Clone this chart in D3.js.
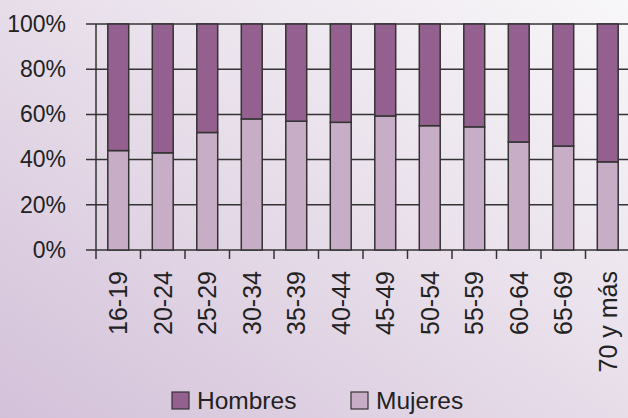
<!DOCTYPE html>
<html>
<head>
<meta charset="utf-8">
<script src="https://cdn.jsdelivr.net/npm/d3@7"></script>
<style>
  body { margin: 0; }
  svg { display: block; font-family: Arial, "Liberation Sans", sans-serif; }
</style>
</head>
<body>
<svg id="chart" width="628" height="418"></svg>
<script>
// age groups along the x axis
var groups = ["16-19", "20-24", "25-29", "30-34", "35-39", "40-44",
              "45-49", "50-54", "55-59", "60-64", "65-69", "70 y más"];
// share of women (%); men are the rest
var mujeres = [44, 43, 52, 58, 57, 56.5, 59.3, 55, 54.5, 47.8, 46, 39];
var hombres = mujeres.map(function (m) { return 100 - m; });
var yTicks = [0, 20, 40, 60, 80, 100];
var seriesNames = ["Hombres", "Mujeres"];
var seriesColors = ["#93608f", "#c8adc6"];

var svg = d3.select("#chart");
var W = 628, H = 418;

// background gradient, lavender bottom-left to almost white top-right
var defs = svg.append("defs");
var grad = defs.append("linearGradient")
  .attr("id", "bg")
  .attr("x1", 0).attr("y1", 1)
  .attr("x2", 1).attr("y2", 0);
grad.append("stop").attr("offset", "0%").attr("stop-color", "#d3c1d9");
grad.append("stop").attr("offset", "55%").attr("stop-color", "#e9e0eb");
grad.append("stop").attr("offset", "100%").attr("stop-color", "#f8f7f9");
svg.append("rect").attr("width", W).attr("height", H).attr("fill", "url(#bg)");

// careful: "top" is window.top, so use other names
var plotLeft = 96, plotTop = 24, plotBottom = 250, step = 44.5;

var x = d3.scaleBand()
  .domain(groups)
  .range([plotLeft, plotLeft + step * groups.length])
  .paddingInner(0.53)
  .paddingOuter(0.265);

var y = d3.scaleLinear().domain([0, 100]).range([plotBottom, plotTop]);

var ink = "#333";

// horizontal gridlines (also give the little ticks left of the axis)
svg.append("g")
  .selectAll("line")
  .data(yTicks)
  .enter()
  .append("line")
  .attr("x1", plotLeft - 10).attr("x2", W)
  .attr("y1", function (d) { return y(d); })
  .attr("y2", function (d) { return y(d); })
  .attr("stroke", ink).attr("stroke-width", 1.5);

// y labels
var yAxis = svg.append("g")
  .attr("transform", "translate(" + plotLeft + ",0)")
  .call(d3.axisLeft(y).tickValues(yTicks).tickSize(0).tickPadding(30)
        .tickFormat(function (d) { return d + "%"; }));
yAxis.select(".domain").remove();
yAxis.selectAll("text")
  .attr("font-size", 23).attr("fill", "#222")
  .attr("font-family", "Arial, 'Liberation Sans', sans-serif");

// bars: women at bottom, men stacked on top
var bars = svg.append("g");
bars.selectAll("rect.muj")
  .data(groups)
  .enter()
  .append("rect")
  .attr("class", "muj")
  .attr("x", function (d) { return x(d); })
  .attr("width", x.bandwidth())
  .attr("y", function (d, i) { return y(mujeres[i]); })
  .attr("height", function (d, i) { return plotBottom - y(mujeres[i]); })
  .attr("fill", seriesColors[1])
  .attr("stroke", ink).attr("stroke-width", 1.5);
bars.selectAll("rect.hom")
  .data(groups)
  .enter()
  .append("rect")
  .attr("class", "hom")
  .attr("x", function (d) { return x(d); })
  .attr("width", x.bandwidth())
  .attr("y", function (d, i) { return y(mujeres[i] + hombres[i]); })
  .attr("height", function (d, i) { return y(mujeres[i]) - y(mujeres[i] + hombres[i]); })
  .attr("fill", seriesColors[0])
  .attr("stroke", ink).attr("stroke-width", 1.5);

// y axis line
svg.append("line")
  .attr("x1", plotLeft).attr("x2", plotLeft)
  .attr("y1", plotTop).attr("y2", plotBottom)
  .attr("stroke", ink).attr("stroke-width", 1.5);

// ticks between categories
var bounds = groups.map(function (d) { return x(d) - x.step() * x.paddingInner() / 2; });
svg.append("g")
  .selectAll("line")
  .data(bounds)
  .enter()
  .append("line")
  .attr("x1", function (d) { return d; })
  .attr("x2", function (d) { return d; })
  .attr("y1", plotBottom).attr("y2", plotBottom + 9)
  .attr("stroke", ink).attr("stroke-width", 1.5);

// rotated category labels
svg.append("g")
  .selectAll("text")
  .data(groups)
  .enter()
  .append("text")
  .attr("transform", function (d) {
    return "translate(" + (x(d) + x.bandwidth() / 2) + "," + 271 + ") rotate(-90)";
  })
  .attr("dy", "0.35em")
  .attr("text-anchor", "end")
  .attr("font-size", 25)
  .attr("fill", "#222")
  .text(function (d) { return d; });

// legend
var legendX = [172, 351];
var legend = svg.append("g")
  .selectAll("g")
  .data(seriesNames)
  .enter()
  .append("g")
  .attr("transform", function (d, i) { return "translate(" + legendX[i] + ",392)"; });
legend.append("rect")
  .attr("width", 17).attr("height", 17)
  .attr("fill", function (d, i) { return seriesColors[i]; })
  .attr("stroke", ink).attr("stroke-width", 1.2);
legend.append("text")
  .attr("x", 25).attr("y", 17)
  .attr("font-size", 24.5)
  .attr("fill", "#222")
  .text(function (d) { return d; });
</script>
</body>
</html>
